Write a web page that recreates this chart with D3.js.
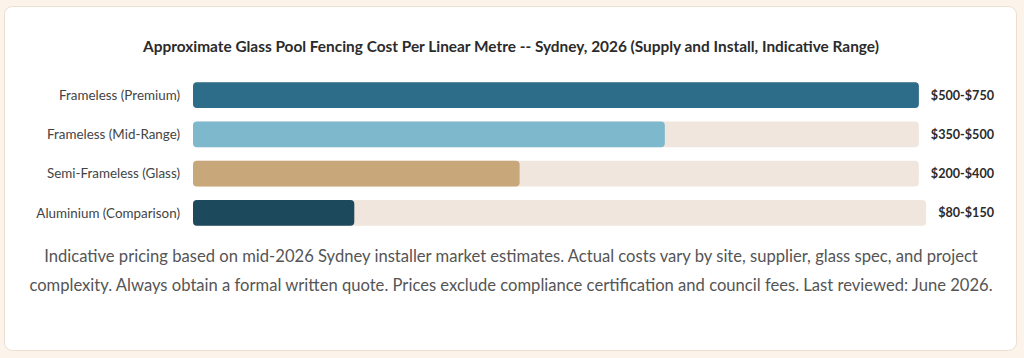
<!DOCTYPE html>
<html><head><meta charset="utf-8">
<script src="https://cdn.jsdelivr.net/npm/d3@7"></script>
<style>
html,body{margin:0;padding:0;background:#fcf3ea;}
svg{display:block;}
</style></head>
<body>
<svg id="chart" width="1024" height="358"></svg>
<script>
const title = "Approximate Glass Pool Fencing Cost Per Linear Metre -- Sydney, 2026 (Supply and Install, Indicative Range)";
const categories = ["Frameless (Premium)", "Frameless (Mid-Range)", "Semi-Frameless (Glass)", "Aluminium (Comparison)"];
const rangeLabels = ["$500-$750", "$350-$500", "$200-$400", "$80-$150"];
const barShare = [100, 65, 45, 22];
const barColors = ["#2d6d89", "#7eb8cc", "#c8a77a", "#1c4a5c"];
const footnoteLines = [
  "Indicative pricing based on mid-2026 Sydney installer market estimates. Actual costs vary by site, supplier, glass spec, and project",
  "complexity. Always obtain a formal written quote. Prices exclude compliance certification and council fees. Last reviewed: June 2026."
];

const svg = d3.select("#chart");
const font = "Lato, 'Open Sans', sans-serif";

// card
svg.append("rect").attr("x", 4.5).attr("y", 6.5).attr("width", 1012).attr("height", 344)
  .attr("rx", 8).attr("fill", "#ffffff").attr("stroke", "#ecdfd2").attr("stroke-width", 1);

// title
svg.append("text").attr("x", 511).attr("y", 52).attr("text-anchor", "middle")
  .attr("font-family", font).attr("font-weight", 700).attr("font-size", 15.4)
  .attr("fill", "#2b2b2b").text(title);

const y = d3.scaleBand().domain(categories).range([75.5, 232.5]).paddingInner(0.35).paddingOuter(0.175);
const x0 = 193;
const rightEdge = 994;
const gap = 12;

const rows = svg.append("g").selectAll("g").data(categories).join("g")
  .attr("transform", d => `translate(0,${y(d)})`);

rows.append("text").attr("x", 180).attr("y", y.bandwidth() / 2).attr("dy", "0.35em")
  .attr("text-anchor", "end").attr("font-family", font).attr("font-size", 13.4)
  .attr("fill", "#444").text(d => d);

const vals = rows.append("text").attr("x", rightEdge).attr("y", y.bandwidth() / 2).attr("dy", "0.35em")
  .attr("text-anchor", "end").attr("font-family", font).attr("font-weight", 700).attr("font-size", 12.6)
  .attr("fill", "#2b2b2b").text((d, i) => rangeLabels[i]);

vals.each(function (d, i) {
  const w = this.getComputedTextLength();
  const trackEnd = rightEdge - w - gap;
  const xs = d3.scaleLinear().domain([0, 100]).range([x0, trackEnd]);
  const g = d3.select(this.parentNode);
  g.insert("rect", "text").attr("x", x0).attr("y", 0).attr("width", trackEnd - x0)
    .attr("height", y.bandwidth()).attr("rx", 4).attr("fill", "#f0e6dd");
  g.insert("rect", "text").attr("x", x0).attr("y", 0).attr("width", xs(barShare[i]) - x0)
    .attr("height", y.bandwidth()).attr("rx", 4).attr("fill", barColors[i]);
});

svg.append("g").selectAll("text").data(footnoteLines).join("text")
  .attr("x", 511).attr("y", (d, i) => 262 + i * 29).attr("text-anchor", "middle")
  .attr("font-family", font).attr("font-size", 16.6).attr("fill", "#555")
  .text(d => d);
</script>
</body></html>
